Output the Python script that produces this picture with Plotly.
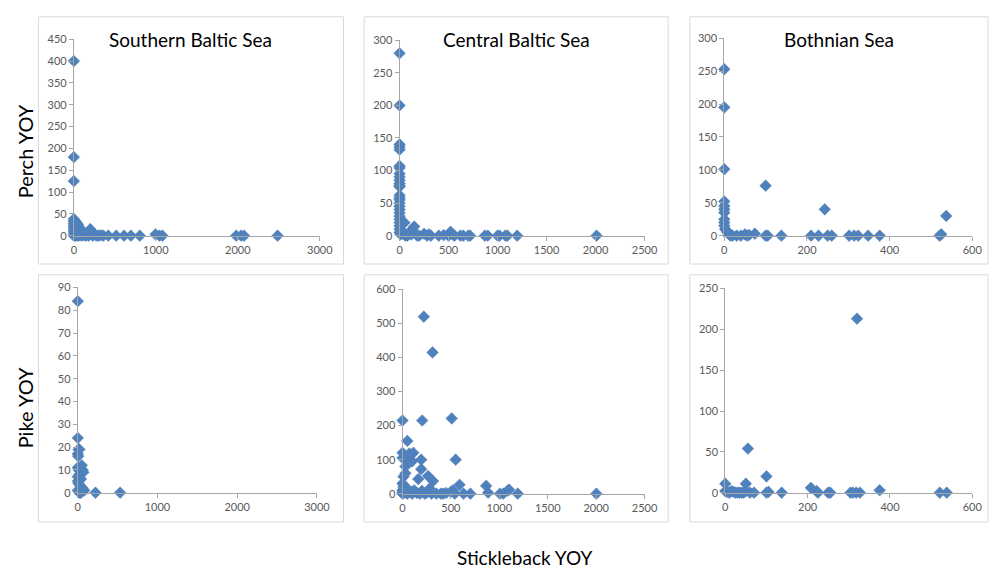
import plotly.graph_objects as go

W, H = 1002, 572

# ---------------- data ----------------
titles = ["Southern Baltic Sea", "Central Baltic Sea", "Bothnian Sea"]

# Perch YOY vs Stickleback YOY
south_perch_x = [0, 0, 0, 0, 0, 0, 0, 0, 0, 0, 0, 0, 10, 20, 30, 40, 50, 60, 80, 90, 100,
                 20, 40, 60, 80, 100, 120, 140, 160, 180, 200, 230, 260, 280, 300, 330, 360,
                 200, 120, 420, 516, 612, 696, 804, 996, 1044, 1080, 1980, 2040, 2076, 2484]
south_perch_y = [400, 180, 125, 38, 33, 28, 24, 20, 15, 10, 5, 0, 35, 32, 30, 27, 25, 20, 15, 10, 5,
                 0, 0, 0, 2, 0, 3, 0, 1, 0, 15, 0, 2, 0, 0, 1, 0,
                 5, 8, 0, 0, 0, 0, 0, 3, 0, 0, 0, 0, 0, 0]

central_perch_x = [0, 0, 0, 0, 0, 0, 0, 0, 0, 0, 0, 0, 0,
                   0, 0, 0, 0, 0, 0, 0, 0, 0, 0, 0, 0, 0,
                   10, 20, 30, 50, 100, 130, 150,
                   60, 80, 120, 180, 200, 250, 280, 300, 320,
                   400, 450, 500, 520, 540, 560, 620, 650, 700, 720,
                   870, 900, 1000, 1020, 1080, 1100, 1200, 2010]
central_perch_y = [280, 200, 140, 136, 132, 107, 104, 95, 90, 85, 80, 77, 75,
                   62, 58, 55, 50, 45, 40, 35, 30, 25, 20, 15, 10, 5,
                   2, 8, 3, 20, 5, 10, 14,
                   0, 0, 2, 0, 0, 3, 0, 2, 0,
                   0, 1, 0, 6, 2, 0, 0, 0, 0, 0,
                   0, 0, 0, 0, 0, 0, 0, 0]

bothnian_perch_x = [0, 0, 0, 0, 0, 0, 0, 0, 0, 0, 2, 5, 8, 10, 12, 15, 100, 243, 537,
                    20, 30, 40, 50, 55, 60, 74, 100, 105, 138, 210, 228, 250, 260,
                    302, 314, 324, 348, 376, 521, 525]
bothnian_perch_y = [253, 195, 101, 52, 45, 40, 35, 25, 20, 15, 10, 8, 5, 3, 2, 0, 76, 40, 30,
                    0, 0, 0, 2, 0, 1, 3, 0, 0, 0, 0, 0, 0, 0,
                    0, 0, 0, 0, 0, 0, 2]

# Pike YOY vs Stickleback YOY
south_pike_x = [0, 0, 10, 20, 0, 5, 0, 10, 50, 60, 70, 20, 0, 40, 0, 10, 30, 60, 0, 20,
                50, 80, 30, 40, 222, 531]
south_pike_y = [84, 24, 19, 19, 17, 16, 11, 10, 12, 10, 9, 8, 7, 6, 5, 4, 3, 2, 1, 0,
                1, 1, 0, 0, 0, 0]

central_pike_x = [0, 203, 508, 220, 310,
                  50, 0, 112, 70, 0, 40, 193, 549,
                  100, 60, 30, 193, 264, 315, 163, 10, 30, 0, 20,
                  589, 864, 884, 1006, 1087, 1190, 2002,
                  396, 498, 630, 701,
                  50, 80, 100, 120, 150, 180, 200, 230, 250, 280, 300, 350, 420, 450, 520, 540,
                  0, 0, 0, 10, 20, 40, 60, 90, 1040, 1100]
central_pike_y = [215, 215, 221, 520, 415,
                  155, 120, 120, 118, 105, 100, 100, 100,
                  95, 90, 80, 72, 52, 37, 43, 50, 60, 30, 15,
                  26, 23, 3, 0, 9, 0, 0,
                  0, 5, 0, 0,
                  0, 5, 0, 10, 2, 0, 8, 0, 3, 15, 0, 0, 0, 2, 10, 0,
                  0, 5, 10, 20, 3, 8, 12, 5, 0, 12]

bothnian_pike_x = [320, 55, 100, 0, 50, 208, 222, 375,
                   0, 5, 10, 15, 20, 25, 30, 35, 40, 45, 50, 60, 70, 100, 105, 137, 225,
                   250, 255, 304, 310, 318, 327, 521, 538]
bothnian_pike_y = [213, 54, 20, 11, 11, 6, 2, 3,
                   2, 1, 0, 2, 1, 0, 0, 0, 0, 0, 2, 0, 0, 0, 1, 0, 0,
                   0, 0, 0, 0, 0, 0, 0, 0]

x_max = [3000, 2500, 600, 3000, 2500, 600]
x_dtick = [1000, 500, 200, 1000, 500, 200]
y_max = [450, 300, 300, 90, 600, 250]
y_dtick = [50, 50, 50, 10, 100, 50]

series = [
    (south_perch_x, south_perch_y), (central_perch_x, central_perch_y), (bothnian_perch_x, bothnian_perch_y),
    (south_pike_x, south_pike_y), (central_pike_x, central_pike_y), (bothnian_pike_x, bothnian_pike_y),
]

# ---------------- layout (pixels) ----------------
plot_px = [  # x0, x1, ytop, ybottom
    (72, 322, 33, 234), (403, 652, 34, 234), (733, 985, 32, 234),
    (76, 319, 287, 497), (406, 652, 289, 498), (734, 985, 288, 497),
]
box_px = [
    (36, 346, 10, 263), (367, 676, 10, 263), (698, 1001, 10, 263),
    (36, 346, 274, 527), (367, 676, 274, 527), (698, 1001, 274, 527),
]

FONT = "Lato, Carlito, Calibri, sans-serif"
BLUE = "#4f81bd"
AXIS = "#a6a6a6"

fig = go.Figure()
layout = dict(
    width=W, height=H, margin=dict(l=0, r=0, t=0, b=0),
    paper_bgcolor="white", plot_bgcolor="white", showlegend=False,
    font=dict(family=FONT, color="#595959", size=11),
)
shapes = []
annotations = []

for i, (sx, sy) in enumerate(series):
    n = i + 1
    xa = "x" if n == 1 else f"x{n}"
    ya = "y" if n == 1 else f"y{n}"
    fig.add_trace(go.Scatter(
        x=sx, y=sy, mode="markers", xaxis=xa, yaxis=ya, cliponaxis=False,
        marker=dict(symbol="diamond", size=9, color=BLUE, line=dict(width=0.5, color=BLUE)),
    ))
    x0, x1, yt, yb = plot_px[i]
    axis_common = dict(showgrid=False, zeroline=False, showline=True, linecolor=AXIS, linewidth=1,
                       ticks="outside", ticklen=4, tickcolor=AXIS, tickwidth=1,
                       tickfont=dict(family=FONT, size=11, color="#595959"), fixedrange=True)
    layout[f"xaxis{'' if n == 1 else n}"] = dict(
        domain=[x0 / W, x1 / W], anchor=ya, range=[0, x_max[i]], dtick=x_dtick[i], tick0=0,
        **axis_common)
    layout[f"yaxis{'' if n == 1 else n}"] = dict(
        domain=[1 - yb / H, 1 - yt / H], anchor=xa, range=[0, y_max[i]], dtick=y_dtick[i], tick0=0,
        **axis_common)
    bx0, bx1, bt, bb = box_px[i]
    shapes.append(dict(type="rect", xref="paper", yref="paper",
                       x0=bx0 / W, x1=bx1 / W, y0=1 - bb / H, y1=1 - bt / H,
                       line=dict(color="#d9d9d9", width=1), fillcolor="rgba(0,0,0,0)", layer="below"))

for j, t in enumerate(titles):
    bx0, bx1, bt, bb = box_px[j]
    annotations.append(dict(text=t, xref="paper", yref="paper", x=(bx0 + bx1) / 2 / W, y=1 - 33 / H,
                            showarrow=False, xanchor="center", yanchor="middle",
                            font=dict(family=FONT, size=19, color="black")))

annotations.append(dict(text="Perch YOY", xref="paper", yref="paper", x=22 / W, y=1 - 148 / H,
                        showarrow=False, textangle=-90, xanchor="center", yanchor="middle",
                        font=dict(family=FONT, size=20, color="black")))
annotations.append(dict(text="Pike YOY", xref="paper", yref="paper", x=22 / W, y=1 - 410 / H,
                        showarrow=False, textangle=-90, xanchor="center", yanchor="middle",
                        font=dict(family=FONT, size=20, color="black")))
annotations.append(dict(text="Stickleback YOY", xref="paper", yref="paper", x=530 / W, y=1 - 563 / H,
                        showarrow=False, xanchor="center", yanchor="middle",
                        font=dict(family=FONT, size=19, color="black")))

layout["shapes"] = shapes
layout["annotations"] = annotations
fig.update_layout(**layout)
fig.write_html("out.html",
               post_script="document.body.style.margin='0';document.body.style.overflow='hidden';")
